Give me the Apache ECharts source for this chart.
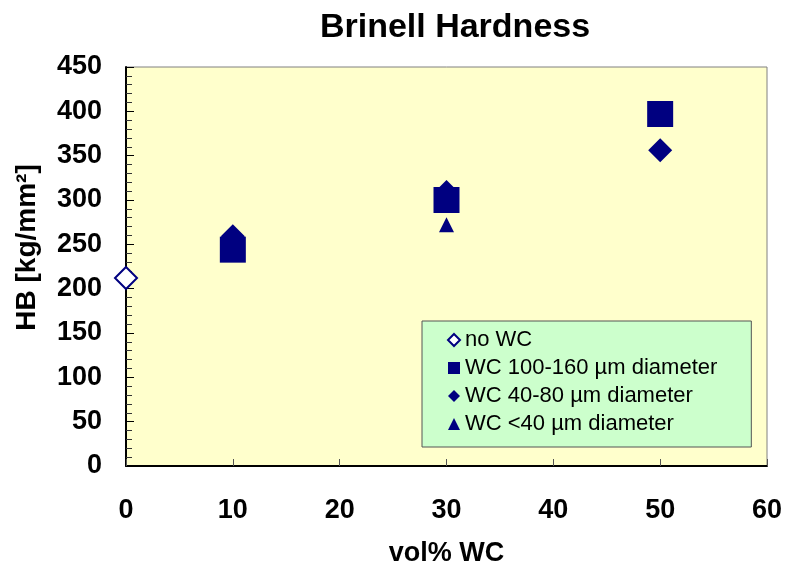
<!DOCTYPE html>
<html>
<head>
<meta charset="utf-8">
<script src="https://cdn.jsdelivr.net/npm/echarts@6/dist/echarts.min.js"></script>
<style>html,body{margin:0;padding:0;background:#fff}#c{width:785px;height:564px}</style>
</head>
<body>
<div id="c"></div>
<script>
const seriesNames = ['no WC', 'WC 100-160 µm diameter', 'WC 40-80 µm diameter', 'WC <40 µm diameter'];
const noWC = [[0, 212]];
const wc100_160 = [[10, 244], [30, 300], [50, 397]];
const wc40_80 = [[10, 259], [30, 309], [50, 356]];
const wcLt40 = [[10, 250], [30, 272]];
const xTicks = [0, 10, 20, 30, 40, 50, 60];
const yTicks = [0, 50, 100, 150, 200, 250, 300, 350, 400, 450];

const navy = '#000080';
const font = 'Liberation Sans, Arial, sans-serif';
const chart = echarts.init(document.getElementById('c'), null, {renderer: 'canvas'});
chart.setOption({
  animation: false,
  backgroundColor: '#ffffff',
  title: {
    text: 'Brinell Hardness', left: 450, top: 6, textAlign: 'center',
    textStyle: {fontFamily: font, fontSize: 34, fontWeight: 'bold', color: '#000'}
  },
  grid: {
    left: 126, right: 18, top: 67, bottom: 98, show: true, outerBoundsMode: 'none', containLabel: false,
    backgroundColor: '#ffffcc', borderColor: '#808080', borderWidth: 1
  },
  legend: {
    orient: 'vertical', left: 422, top: 321,
    backgroundColor: '#ccffcc', borderColor: '#555', borderWidth: 1,
    padding: [8, 34, 12, 25], itemGap: 6, itemWidth: 12, itemHeight: 12, itemTextGap: 18,
    selectedMode: false,
    textStyle: {fontFamily: font, fontSize: 22, color: '#000'},
    data: seriesNames
  },
  xAxis: {
    type: 'value', min: xTicks[0], max: xTicks[xTicks.length - 1], interval: 10,
    name: 'vol% WC', nameLocation: 'middle', nameGap: 74,
    nameTextStyle: {fontFamily: font, fontSize: 27, fontWeight: 'bold', color: '#000'},
    axisLine: {show: true, lineStyle: {color: '#000', width: 2}},
    axisTick: {show: true, inside: true, length: 7, lineStyle: {color: '#555'}},
    axisLabel: {margin: 31, fontFamily: font, fontSize: 27, fontWeight: 'bold', color: '#000'},
    splitLine: {show: false}
  },
  yAxis: {
    type: 'value', min: yTicks[0], max: yTicks[yTicks.length - 1], interval: 50,
    name: 'HB [kg/mm²]', nameLocation: 'middle', nameGap: 85,
    nameTextStyle: {fontFamily: font, fontSize: 28, fontWeight: 'bold', color: '#000', padding: [0, 0, 0, 38]},
    axisLine: {show: true, lineStyle: {color: '#000', width: 2}},
    axisTick: {show: true, inside: true, length: 8, lineStyle: {color: '#000'}},
    minorTick: {show: true, splitNumber: 5, length: 6, lineStyle: {color: '#333'}},
    axisLabel: {margin: 24, fontFamily: font, fontSize: 27, fontWeight: 'bold', color: '#000'},
    splitLine: {show: false}
  },
  series: [
    {name: seriesNames[0], type: 'scatter', data: noWC, symbol: 'diamond', symbolSize: 22, z: 4,
     itemStyle: {color: '#ffffff', borderColor: navy, borderWidth: 2, opacity: 1}},
    {name: seriesNames[1], type: 'scatter', data: wc100_160, symbol: 'rect', symbolSize: 26, z: 3,
     itemStyle: {color: navy, opacity: 1}},
    {name: seriesNames[2], type: 'scatter', data: wc40_80, symbol: 'diamond', symbolSize: 24, z: 2,
     itemStyle: {color: navy, opacity: 1}},
    {name: seriesNames[3], type: 'scatter', data: wcLt40, symbol: 'triangle', symbolSize: 15, z: 1,
     itemStyle: {color: navy, opacity: 1}}
  ]
});
</script>
</body>
</html>
